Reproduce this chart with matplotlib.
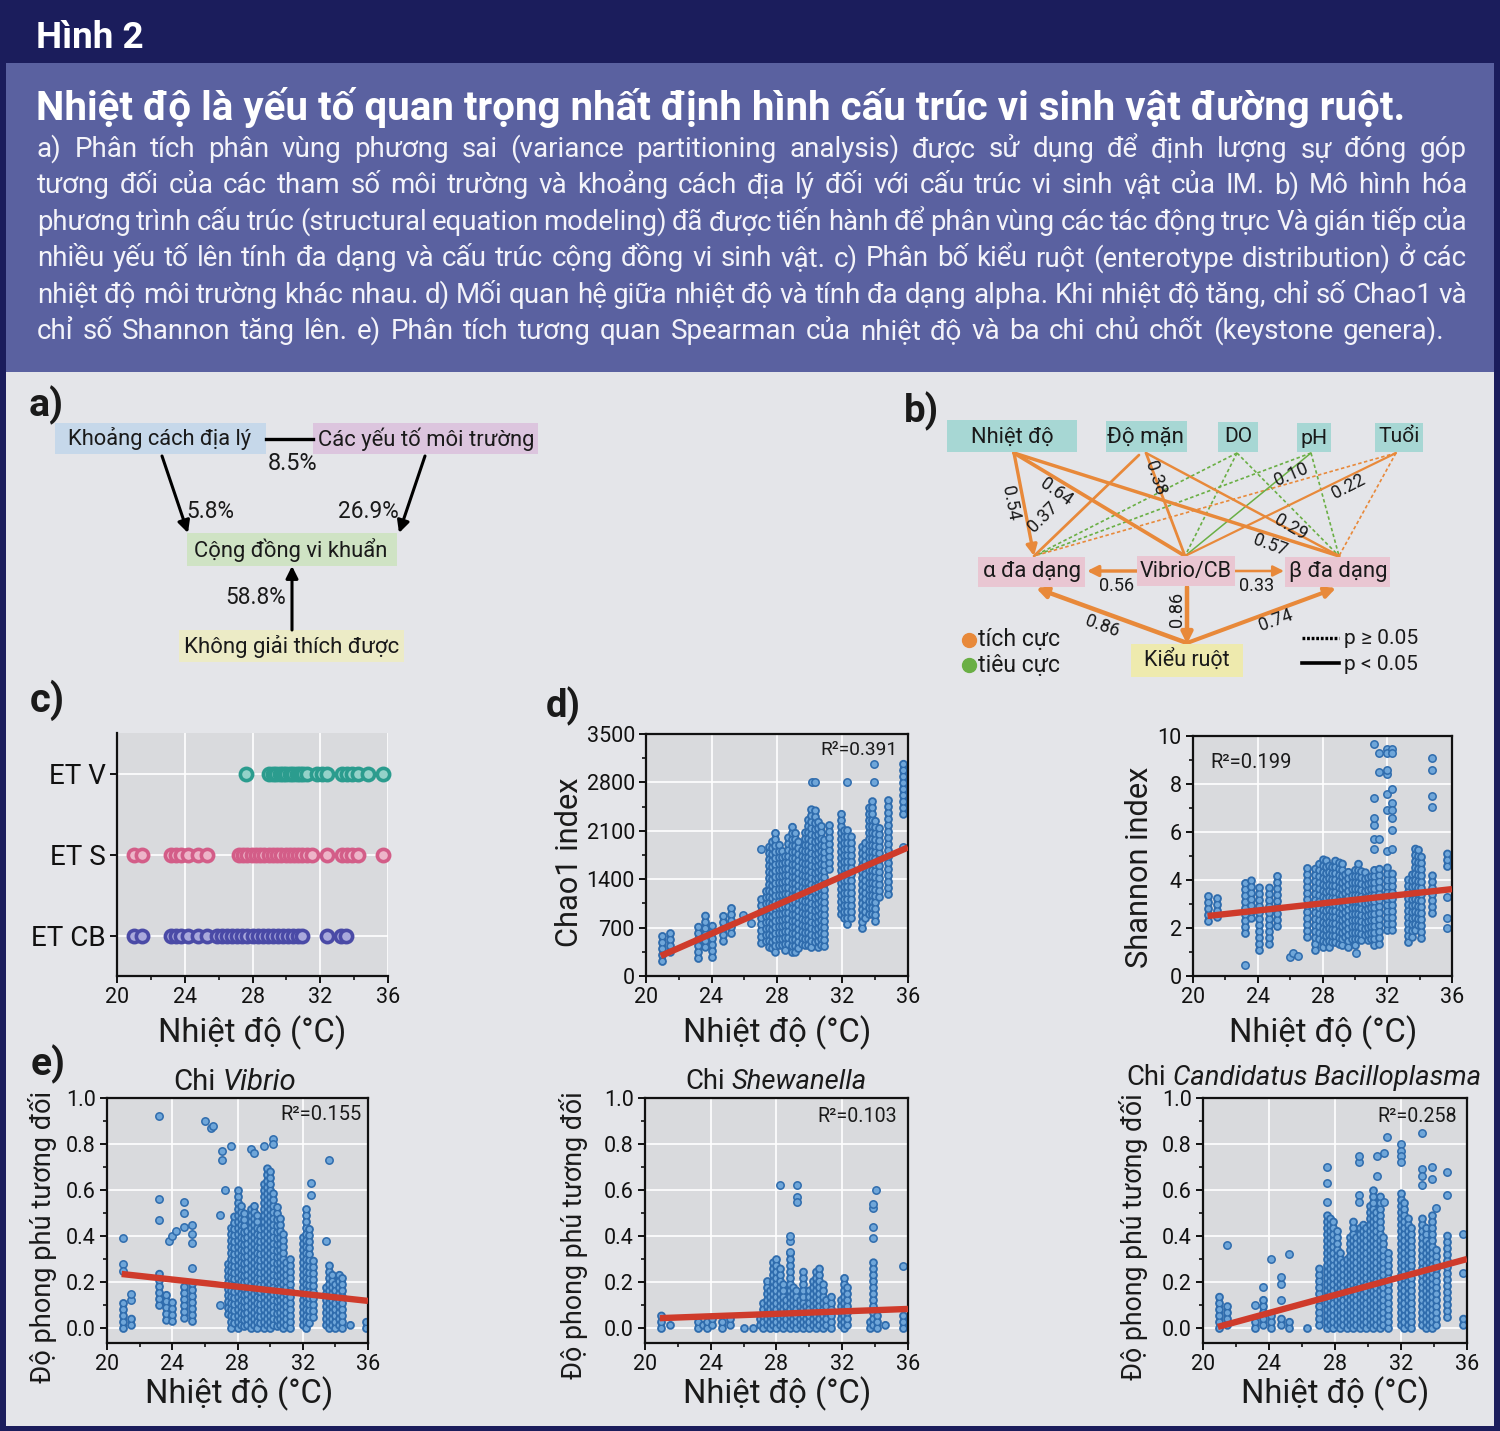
import matplotlib
matplotlib.use("Agg")
import matplotlib.pyplot as plt
from matplotlib.patches import Rectangle
from matplotlib.ticker import MultipleLocator, FormatStrFormatter

plt.rcParams['font.family'] = ['Roboto', 'DejaVu Sans']
plt.rcParams['lines.scale_dashes'] = False

# ------------------------------------------------------------------ data
fig_label = "Hình 2"
title = "Nhiệt độ là yếu tố quan trọng nhất định hình cấu trúc vi sinh vật đường ruột."
body_lines = [
    "a) Phân tích phân vùng phương sai (variance partitioning analysis) được sử dụng để định lượng sự đóng góp",
    "tương đối của các tham số môi trường và khoảng cách địa lý đối với cấu trúc vi sinh vật của IM. b) Mô hình hóa",
    "phương trình cấu trúc (structural equation modeling) đã được tiến hành để phân vùng các tác động trực Và gián tiếp của",
    "nhiều yếu tố lên tính đa dạng và cấu trúc cộng đồng vi sinh vật. c) Phân bố kiểu ruột (enterotype distribution) ở các",
    "nhiệt độ môi trường khác nhau. d) Mối quan hệ giữa nhiệt độ và tính đa dạng alpha. Khi nhiệt độ tăng, chỉ số Chao1 và",
    "chỉ số Shannon tăng lên. e) Phân tích tương quan Spearman của nhiệt độ và ba chi chủ chốt (keystone genera).",
]

# panel a: variance partitioning
a_nodes = ["Khoảng cách địa lý", "Các yếu tố môi trường", "Cộng đồng vi khuẩn", "Không giải thích được"]
a_shares = ["8.5%", "5.8%", "26.9%", "58.8%"]

# panel b: structural equation model
b_nodes = ["Nhiệt độ", "Độ mặn", "DO", "pH", "Tuổi", "α đa dạng", "Vibrio/CB", "β đa dạng", "Kiểu ruột"]
# (source, target, significant, positive, coefficient, arrow head)
b_edges = [
    ("DO", "α đa dạng", False, False, None, False),
    ("DO", "Vibrio/CB", False, False, None, False),
    ("DO", "β đa dạng", False, False, None, False),
    ("pH", "α đa dạng", False, False, None, False),
    ("pH", "β đa dạng", False, False, None, False),
    ("Tuổi", "α đa dạng", False, True, None, False),
    ("Tuổi", "β đa dạng", False, True, None, False),
    ("pH", "Vibrio/CB", True, False, 0.10, False),
    ("Nhiệt độ", "α đa dạng", True, True, 0.54, True),
    ("Nhiệt độ", "Vibrio/CB", True, True, 0.64, False),
    ("Nhiệt độ", "β đa dạng", True, True, 0.57, False),
    ("Độ mặn", "α đa dạng", True, True, 0.37, False),
    ("Độ mặn", "Vibrio/CB", True, True, 0.38, False),
    ("Độ mặn", "β đa dạng", True, True, 0.29, False),
    ("Tuổi", "Vibrio/CB", True, True, 0.22, False),
    ("Vibrio/CB", "α đa dạng", True, True, 0.56, True),
    ("Vibrio/CB", "β đa dạng", True, True, 0.33, True),
    ("Vibrio/CB", "Kiểu ruột", True, True, 0.86, True),
    ("Kiểu ruột", "α đa dạng", True, True, 0.86, True),
    ("Kiểu ruột", "β đa dạng", True, True, 0.74, True),
]
b_legend_sign = ["tích cực", "tiêu cực"]
b_legend_sig = ["p ≥ 0.05", "p < 0.05"]

# panel c: enterotype vs temperature
et_labels = ["ET CB", "ET S", "ET V"]
etcb_temp = [21.0, 21.5, 23.2, 23.5, 23.8, 24.2, 24.8, 25.3, 25.9, 26.2, 26.5, 26.8, 27.1, 27.4,
             27.7, 28.0, 28.3, 28.6, 28.9, 29.2, 29.5, 29.8, 30.1, 30.4, 30.7, 30.9, 32.4, 33.25, 33.5]
ets_temp = [21.0, 21.5, 23.2, 23.5, 23.8, 24.2, 24.8, 25.3, 27.2, 27.45, 27.7, 27.95, 28.2, 28.45,
            28.7, 28.95, 29.2, 29.45, 29.7, 29.95, 30.2, 30.45, 30.7, 30.95, 31.2, 31.5, 32.4, 33.3,
            33.6, 33.9, 34.2, 35.7]
etv_temp = [27.6, 29.0, 29.2, 29.4, 29.6, 29.8, 30.0, 30.2, 30.4, 30.6, 30.8, 31.0, 31.2, 31.8,
            32.1, 32.4, 33.3, 33.6, 33.9, 34.2, 34.8, 35.7]

temp_ticks = [20, 24, 28, 32, 36]
fit_temp = [20.9, 36.0]

# panel d: Chao1 (sample columns: temperature, lowest and highest value) + single samples
chao_t = [21.0, 21.45, 23.2, 23.6, 24.0, 24.7, 25.2, 27.0, 27.3, 27.5, 27.7, 27.9, 28.1, 28.3, 28.5,
          28.7, 28.9, 29.1, 29.3, 29.5, 29.7, 29.9, 30.1, 30.3, 30.5, 30.7, 30.9, 31.2, 31.9, 32.1,
          32.3, 32.5, 33.2, 33.4, 33.6, 33.8, 34.0, 34.2, 34.8, 35.7]
chao_lo = [210, 300, 260, 380, 280, 470, 620, 430, 500, 380, 400, 300, 450, 400, 380, 420, 350, 300,
           400, 420, 450, 400, 420, 450, 420, 400, 430, 1500, 900, 800, 750, 800, 700, 800, 900, 850,
           800, 1100, 1180, 2300]
chao_hi = [640, 620, 780, 880, 760, 960, 1030, 1200, 1250, 1900, 2000, 2100, 1950, 1850, 1800, 2050,
           2200, 2150, 2000, 1900, 2150, 2300, 2450, 2400, 2300, 2200, 2050, 2200, 2400, 2200, 2150,
           2050, 1950, 2000, 2500, 2550, 2300, 2200, 2600, 3150]
chao_px = [25.95, 26.4, 27.0, 30.15, 30.35, 32.3, 33.9, 33.9, 35.7]
chao_py = [880, 770, 1830, 2800, 2800, 2800, 2800, 3070, 1870]
chao_fit = [290, 1860]
chao_r2 = "R²=0.391"

# panel d: Shannon
sh_t = [20.93, 21.5, 23.2, 23.6, 24.1, 24.7, 25.2, 27.05, 27.55, 27.8, 28.0, 28.2, 28.4, 28.6, 28.8,
        29.0, 29.2, 29.4, 29.6, 29.8, 30.0, 30.2, 30.4, 30.6, 30.8, 31.0, 31.2, 31.5, 32.0, 32.3,
        33.3, 33.5, 33.7, 33.9, 34.1, 34.75, 35.7]
sh_lo = [2.3, 2.35, 1.8, 2.3, 1.1, 1.2, 2.1, 1.5, 1.1, 1.4, 1.2, 1.3, 1.2, 1.3, 1.4, 1.2, 1.3, 1.5,
         1.2, 1.4, 1.3, 1.4, 1.5, 1.6, 1.5, 1.4, 1.3, 1.2, 1.9, 1.8, 1.4, 1.5, 1.9, 2.0, 1.6, 2.5, 4.6]
sh_hi = [3.5, 3.45, 4.0, 4.2, 3.7, 3.7, 4.35, 4.55, 4.7, 4.8, 5.0, 4.9, 4.7, 4.8, 4.9, 4.8, 4.7, 4.5,
         4.6, 4.3, 4.5, 4.7, 4.6, 4.4, 4.3, 4.2, 4.5, 4.5, 4.6, 4.5, 4.2, 4.5, 5.4, 5.3, 5.2, 4.3, 5.3]
sh_px = [23.2, 26.0, 26.2, 26.5, 30.1, 31.2, 31.2, 31.2, 31.2, 31.2, 31.2, 31.5, 31.5, 31.5,
         32.0, 32.0, 32.0, 32.0, 32.0, 32.0, 32.0, 32.3, 32.3, 32.3, 32.3, 32.3, 32.3, 32.3, 32.3,
         34.75, 34.75, 34.75, 34.75, 35.7, 35.7, 35.7]
sh_py = [0.45, 0.8, 0.95, 0.85, 0.95, 5.3, 5.7, 6.3, 6.6, 7.4, 9.65, 9.3, 8.5, 5.7,
         9.45, 9.3, 8.4, 8.6, 7.6, 6.9, 5.2, 9.45, 9.3, 7.8, 7.2, 6.9, 6.6, 6.1, 5.3,
         7.05, 7.5, 8.6, 9.1, 3.3, 2.4, 2.0]
sh_fit = [2.5, 3.62]
sh_r2 = "R²=0.199"

# panel e: Vibrio
vib_t = [21.0, 21.5, 23.2, 23.6, 24.0, 24.7, 25.2, 27.4, 27.6, 27.8, 28.0, 28.2, 28.4, 28.6, 28.8,
         29.0, 29.2, 29.4, 29.6, 29.8, 30.0, 30.2, 30.4, 30.6, 30.8, 31.0, 31.2, 32.0, 32.2, 32.4,
         32.6, 33.4, 33.6, 33.8, 34.0, 34.2, 34.4, 34.9, 35.85]
vib_lo = [0.0, 0.0, 0.1, 0.02, 0.03, 0.03, 0.03, 0.05, 0.0, 0.01, 0.0, 0.0, 0.01, 0.0, 0.0, 0.0, 0.0,
          0.01, 0.0, 0.0, 0.0, 0.0, 0.01, 0.0, 0.0, 0.0, 0.0, 0.0, 0.0, 0.01, 0.05, 0.0, 0.0, 0.0,
          0.0, 0.0, 0.0, 0.0, 0.0]
vib_hi = [0.13, 0.05, 0.26, 0.16, 0.14, 0.2, 0.2, 0.3, 0.45, 0.5, 0.6, 0.55, 0.5, 0.45, 0.52, 0.55,
          0.5, 0.45, 0.65, 0.72, 0.7, 0.6, 0.55, 0.5, 0.42, 0.3, 0.3, 0.4, 0.52, 0.45, 0.3, 0.18,
          0.29, 0.25, 0.2, 0.24, 0.22, 0.02, 0.03]
vib_px = [21.0, 21.0, 21.0, 21.5, 21.5, 23.2, 23.2, 23.2, 23.8, 24.0, 24.2, 24.7, 24.7, 24.7, 25.2,
          25.2, 25.2, 25.2, 26.0, 26.35, 26.5, 26.9, 26.9, 27.05, 27.05, 27.25, 27.6, 28.85, 29.0,
          29.6, 30.2, 30.2, 32.5, 32.5, 33.4, 33.6]
vib_py = [0.28, 0.25, 0.39, 0.12, 0.15, 0.47, 0.56, 0.92, 0.38, 0.40, 0.42, 0.44, 0.50, 0.55, 0.26,
          0.37, 0.41, 0.45, 0.90, 0.87, 0.88, 0.10, 0.49, 0.77, 0.73, 0.60, 0.79, 0.78, 0.76,
          0.79, 0.82, 0.80, 0.58, 0.63, 0.38, 0.73]
vib_fit = [0.235, 0.118]
vib_r2 = "R²=0.155"

# panel e: Shewanella
she_t = [21.0, 21.5, 23.2, 23.5, 23.8, 24.1, 24.7, 25.2, 26.0, 26.3, 26.6, 27.0, 27.2, 27.4, 27.6,
         27.8, 28.0, 28.2, 28.4, 28.6, 28.8, 29.0, 29.2, 29.4, 29.6, 29.8, 30.0, 30.2, 30.4, 30.6,
         30.8, 31.0, 31.3, 31.9, 32.1, 32.3, 33.7, 33.9, 34.1, 34.6, 35.7]
she_lo = [0.0] * 41
she_hi = [0.06, 0.02, 0.04, 0.04, 0.05, 0.05, 0.05, 0.06, 0.01, 0.01, 0.01, 0.05, 0.12, 0.23, 0.18,
          0.3, 0.31, 0.28, 0.2, 0.15, 0.33, 0.2, 0.18, 0.15, 0.27, 0.12, 0.17, 0.22, 0.25, 0.26,
          0.2, 0.14, 0.14, 0.13, 0.23, 0.18, 0.05, 0.3, 0.06, 0.02, 0.07]
she_px = [28.2, 28.8, 28.8, 28.8, 29.25, 29.25, 29.25, 33.9, 33.9, 33.9, 33.9, 34.05, 35.7]
she_py = [0.62, 0.33, 0.38, 0.40, 0.62, 0.57, 0.55, 0.39, 0.44, 0.52, 0.54, 0.60, 0.27]
she_fit = [0.043, 0.083]
she_r2 = "R²=0.103"

# panel e: Candidatus Bacilloplasma
can_t = [20.95, 21.46, 23.15, 23.65, 24.1, 24.7, 25.2, 26.0, 26.3, 27.0, 27.5, 27.7, 27.9, 28.1,
         28.3, 28.5, 28.7, 28.9, 29.1, 29.3, 29.5, 29.7, 29.9, 30.1, 30.3, 30.5, 30.7, 30.9, 31.2,
         32.0, 32.2, 32.4, 32.6, 33.3, 33.5, 33.7, 33.9, 34.1, 34.8, 35.75]
can_lo = [0.0] * 38 + [0.05, 0.0]
can_hi = [0.15, 0.1, 0.05, 0.15, 0.06, 0.05, 0.04, 0.005, 0.005, 0.27, 0.5, 0.5, 0.48, 0.45, 0.35,
          0.3, 0.3, 0.4, 0.48, 0.42, 0.45, 0.46, 0.44, 0.55, 0.6, 0.52, 0.58, 0.4, 0.35, 0.6, 0.55,
          0.5, 0.45, 0.5, 0.45, 0.38, 0.5, 0.36, 0.42, 0.05]
can_px = [21.46, 23.15, 23.65, 24.1, 24.7, 24.7, 24.7, 25.2, 27.5, 27.5, 27.5, 29.45, 29.45, 29.45,
          29.45, 30.55, 30.55, 30.96, 30.96, 31.17, 32.0, 32.0, 32.0, 32.0, 33.3, 33.3, 33.3, 33.3,
          33.9, 33.9, 34.1, 34.8, 34.8, 35.75, 35.75]
can_py = [0.36, 0.1, 0.18, 0.3, 0.12, 0.19, 0.22, 0.32, 0.55, 0.63, 0.7, 0.58, 0.55, 0.72, 0.75,
          0.75, 0.66, 0.76, 0.55, 0.83, 0.8, 0.77, 0.75, 0.72, 0.85, 0.69, 0.66, 0.62, 0.7, 0.65,
          0.52, 0.58, 0.68, 0.24, 0.41]
can_fit = [0.005, 0.30]
can_r2 = "R²=0.258"

# ------------------------------------------------------------------ style
W, H = 1500, 1431
NAVY = '#1b1d5c'
SLATE = '#5a61a0'
BODY = '#e4e5e9'
PLOT_BG = '#d9dadd'
DOT_EDGE = '#2f6cad'
DOT_FILL = '#6fa6d9'
FIT = '#cf3b2b'
ORANGE = '#e8893a'
GREEN = '#6aaf45'
DOT_D = 6.4
DOT_SP = 4.5
DOT_IN = 3.7

fig = plt.figure(figsize=(15, 14.31), dpi=100)
fig.patch.set_facecolor(BODY)
R = fig.canvas.get_renderer()

ov = fig.add_axes([0, 0, 1, 1])
ov.set_zorder(10)
ov.patch.set_visible(False)
ov.set_xlim(0, W)
ov.set_ylim(H, 0)
ov.axis('off')


def px_rect(l, t, r, b):
    return [l / W, 1 - b / H, (r - l) / W, (b - t) / H]


def fit(x, y, s, width, size=16, ha='center', va='center', rot=0, **kw):
    t = ov.text(x, y, s, fontsize=size, ha=ha, va=va, **kw)
    w = t.get_window_extent(R).width
    t.set_fontsize(size * width / w)
    if rot:
        t.set_rotation(rot)
    return t


def fit_parts(cx, y, parts, width, size=18):
    ts = [ov.text(0, y, s, fontsize=size, style=st, ha='left', va='baseline', color='#1a1a1a')
          for s, st in parts]
    ws = [t.get_window_extent(R).width for t in ts]
    gap = 0.26 * size * 100 / 72
    k = width / (sum(ws) + gap * (len(ws) - 1))
    x = cx - width / 2
    for t, w in zip(ts, ws):
        t.set_fontsize(size * k)
        t.set_x(x)
        x += (w + gap) * k


def justify(y, s, x0, x1, size, color, weight='normal'):
    words = s.split()
    ts = [ov.text(0, y, w, fontsize=size, color=color, ha='left', va='baseline', fontweight=weight)
          for w in words]
    ws = [t.get_window_extent(R).width for t in ts]
    target = x1 - x0
    sp = 0.20 * size * 100 / 72
    nat = sum(ws) + sp * (len(ws) - 1)
    if nat > target:
        k = target / nat
        for t in ts:
            t.set_fontsize(size * k)
        ws = [w * k for w in ws]
    gap = (target - sum(ws)) / (len(ws) - 1)
    x = x0
    for t, w in zip(ts, ws):
        t.set_x(x)
        x += w + gap


# ------------------------------------------------------------------ header
ov.add_patch(Rectangle((0, 0), W, 63, fc=NAVY, ec='none'))
ov.add_patch(Rectangle((6, 63), W - 12, 309, fc=SLATE, ec='none'))
ov.add_patch(Rectangle((0, 0), 6, H, fc=NAVY, ec='none'))
ov.add_patch(Rectangle((W - 6, 0), 6, H, fc=NAVY, ec='none'))
ov.add_patch(Rectangle((0, H - 5), W, 5, fc=NAVY, ec='none'))

fit(36, 48, fig_label, 108, size=24, ha='left', va='baseline', color='white', fontweight='bold')
fit(36, 120, title, 1372, size=24, ha='left', va='baseline', color='white', fontweight='bold')
line_ends = [1467, 1467, 1467, 1467, 1467, 1444]
for i, line in enumerate(body_lines):
    justify(157 + 36.4 * i, line, 37, line_ends[i], 20, '#f3f3f9')

# ------------------------------------------------------------------ panel letters
for lab, x, y in [("a)", 29, 405), ("b)", 904, 411), ("c)", 30, 700), ("d)", 546, 706), ("e)", 31, 1064)]:
    fit(x, y, lab, 35, size=24, ha='left', va='center', fontweight='bold', color='#1a1a1a')

# ------------------------------------------------------------------ panel a
a_box = [(55, 423, 266, 454, '#c6d8ea'), (313, 423, 538, 454, '#dcc5de'),
         (187, 533, 397, 566, '#cfe3c4'), (179, 630, 404, 662, '#ecebc6')]
a_txt = [(160, 439, 184), (426, 439, 216), (291, 550, 193), (292, 647, 215)]
for name, (l, t, r, b, c), (cx, cy, w) in zip(a_nodes, a_box, a_txt):
    ov.add_patch(Rectangle((l, t), r - l, b - t, fc=c, ec='none', zorder=1))
    fit(cx, cy, name, w, size=16, color='#1a1a1a', zorder=3)
ov.plot([266, 313], [439, 439], color='black', lw=2.4, zorder=2)
arrow_kw = dict(arrowstyle='-|>', color='black', lw=2.2, mutation_scale=18, shrinkA=0, shrinkB=0)
ov.annotate('', xy=(188, 533), xytext=(162, 456), arrowprops=arrow_kw)
ov.annotate('', xy=(399, 533), xytext=(425, 456), arrowprops=arrow_kw)
ov.annotate('', xy=(292, 566), xytext=(292, 630), arrowprops=arrow_kw)
for s, (cx, cy, w) in zip(a_shares, [(293, 463, 50), (210, 511, 48), (368, 511, 61), (256, 598, 61)]):
    fit(cx, cy, s, w, size=16, color='#1a1a1a')

# ------------------------------------------------------------------ panel b
b_box = {"Nhiệt độ": (947, 420, 1077, 452), "Độ mặn": (1106, 421, 1187, 452),
         "DO": (1218, 422, 1258, 452), "pH": (1297, 423, 1331, 452), "Tuổi": (1375, 423, 1423, 452),
         "α đa dạng": (978, 557, 1085, 587), "Vibrio/CB": (1137, 556, 1235, 586),
         "β đa dạng": (1285, 557, 1390, 587), "Kiểu ruột": (1131, 644, 1243, 677)}
b_txt = {"Nhiệt độ": (1012, 437, 83), "Độ mặn": (1145, 437, 77), "DO": (1238, 437, 28),
         "pH": (1314, 438, 27), "Tuổi": (1399, 437, 41), "α đa dạng": (1032, 572, 98),
         "Vibrio/CB": (1186, 572, 92), "β đa dạng": (1338, 572, 98), "Kiểu ruột": (1187, 660, 86)}
b_col = {"Nhiệt độ": '#a7d7d4', "Độ mặn": '#a7d7d4', "DO": '#a7d7d4', "pH": '#a7d7d4',
         "Tuổi": '#a7d7d4', "α đa dạng": '#e9c6d2', "Vibrio/CB": '#e9c6d2', "β đa dạng": '#e9c6d2',
         "Kiểu ruột": '#eeeaae'}
for name in b_nodes:
    l, t, r, b = b_box[name]
    ov.add_patch(Rectangle((l, t), r - l, b - t, fc=b_col[name], ec='none', zorder=4))
    cx, cy, w = b_txt[name]
    fit(cx, cy, name, w, size=16, color='#1a1a1a', zorder=5)

b_src = {"Nhiệt độ": (1014, 453), "Độ mặn": (1146, 453), "DO": (1237, 453), "pH": (1311, 453),
         "Tuổi": (1396, 453)}
b_dst = {"α đa dạng": (1034, 556), "Vibrio/CB": (1185, 556), "β đa dạng": (1339, 556)}
b_special = {("Độ mặn", "α đa dạng"): ((1139, 455), (1034, 556)),
             ("Vibrio/CB", "α đa dạng"): ((1137, 571), (1087, 571)),
             ("Vibrio/CB", "β đa dạng"): ((1235, 571), (1284, 571)),
             ("Vibrio/CB", "Kiểu ruột"): ((1187, 587), (1187, 644)),
             ("Kiểu ruột", "α đa dạng"): ((1187, 643), (1036, 588)),
             ("Kiểu ruột", "β đa dạng"): ((1187, 643), (1336, 588))}
b_lab = {("Nhiệt độ", "α đa dạng"): (1010, 503, -79), ("Nhiệt độ", "Vibrio/CB"): (1056, 492, -35),
         ("Nhiệt độ", "β đa dạng"): (1270, 545, -20), ("Độ mặn", "α đa dạng"): (1043, 517, 45),
         ("Độ mặn", "Vibrio/CB"): (1155, 478, -72), ("Độ mặn", "β đa dạng"): (1291, 527, -30),
         ("pH", "Vibrio/CB"): (1291, 475, 23), ("Tuổi", "Vibrio/CB"): (1348, 487, 27),
         ("Vibrio/CB", "α đa dạng"): (1117, 586, 0), ("Vibrio/CB", "β đa dạng"): (1257, 586, 0),
         ("Vibrio/CB", "Kiểu ruột"): (1177, 609, 90), ("Kiểu ruột", "α đa dạng"): (1102, 626, -20),
         ("Kiểu ruột", "β đa dạng"): (1276, 620, 20)}
for src, dst, sig, pos, coef, head in b_edges:
    if (src, dst) in b_special:
        p0, p1 = b_special[(src, dst)]
    else:
        p0, p1 = b_src[src], b_dst[dst]
    col = ORANGE if pos else GREEN
    if not sig:
        ov.plot([p0[0], p1[0]], [p0[1], p1[1]], color=col, lw=1.2, dashes=(2.5, 1.8), zorder=2)
        continue
    lw = 1.0 + 2.6 * coef if pos else 1.1
    ov.annotate('', xy=p1, xytext=p0, zorder=3,
                arrowprops=dict(arrowstyle='-|>' if head else '-', color=col, lw=lw,
                                mutation_scale=16, shrinkA=0, shrinkB=0))
    x, y, rot = b_lab[(src, dst)]
    ov.text(x, y, f"{coef:.2f}", fontsize=13, ha='center', va='center', rotation=rot,
            color='#1a1a1a', zorder=6)

ov.plot([969], [640], 'o', color=ORANGE, ms=10, zorder=5)
ov.plot([969], [665], 'o', color=GREEN, ms=10, zorder=5)
fit(978, 640, b_legend_sign[0], 82, size=16, ha='left', color='#1a1a1a')
fit(978, 665, b_legend_sign[1], 82, size=16, ha='left', color='#1a1a1a')
ov.plot([1302, 1339], [638, 638], color='black', lw=2.4, dashes=(2, 1.3))
ov.plot([1302, 1339], [663, 663], color='black', lw=2.6)
fit(1344, 638, b_legend_sig[0], 74, size=15, ha='left', color='#1a1a1a')
fit(1344, 664, b_legend_sig[1], 74, size=15, ha='left', color='#1a1a1a')


# ------------------------------------------------------------------ axes helpers
def style_axes(ax, frame=True):
    ax.set_facecolor(PLOT_BG)
    ax.set_xlim(20, 36)
    ax.xaxis.set_major_locator(MultipleLocator(4))
    ax.xaxis.set_minor_locator(MultipleLocator(2))
    ax.grid(True, which='major', color='white', lw=1.2, zorder=0)
    ax.set_axisbelow(True)
    for sp in ax.spines.values():
        sp.set_linewidth(1.6)
        sp.set_color('#111111')
    if not frame:
        ax.spines['top'].set_visible(False)
        ax.spines['right'].set_visible(False)
    ax.tick_params(which='major', direction='out', length=5, width=1.4, labelsize=15.5,
                   colors='#111111', pad=3)
    ax.tick_params(which='minor', direction='out', length=3, width=1.2, colors='#111111')
    ax.tick_params(top=False, right=False, which='both')


def dot_columns(ax, xs, lo, hi, px, py):
    # each sample column drawn as a stack of ring markers (edge layer, then fill layer)
    for i, (x, a, b) in enumerate(zip(xs, lo, hi)):
        ls = [(0, (0.01, DOT_SP))] if i % 2 == 0 else [(DOT_SP / 2, (0.01, DOT_SP))]
        ax.vlines([x], [a], [b], colors=DOT_EDGE, linewidth=DOT_D, linestyles=ls,
                  capstyle='round', zorder=2)
        ax.vlines([x], [a], [b], colors=DOT_FILL, linewidth=DOT_IN, linestyles=ls,
                  capstyle='round', zorder=2)
    ax.scatter(px, py, s=(DOT_D - 1.1) ** 2, facecolors=DOT_FILL, edgecolors=DOT_EDGE,
               linewidths=1.1, zorder=2.2)


# ------------------------------------------------------------------ panel c
axc = fig.add_axes(px_rect(117, 733, 388, 976))
style_axes(axc, frame=False)
axc.set_ylim(-0.5, 2.5)
axc.set_yticks([0, 1, 2])
axc.set_yticklabels(et_labels, fontsize=20)
axc.set_xticks(temp_ticks)
for temps, row, ec, fc in [(etcb_temp, 0, '#4a4aa6', '#a9a9dc'),
                           (ets_temp, 1, '#d35d88', '#edb5c9'),
                           (etv_temp, 2, '#2b9c8e', '#94d2c9')]:
    axc.scatter(temps, [row] * len(temps), s=78, facecolors=fc, edgecolors=ec,
                linewidths=2.6, zorder=3, clip_on=False)
fit(252, 1042, "Nhiệt độ (°C)", 188, size=24, va='baseline', color='#1a1a1a')

# ------------------------------------------------------------------ panel d (Chao1)
axd1 = fig.add_axes(px_rect(646, 734, 908, 976))
style_axes(axd1)
axd1.set_ylim(0, 3500)
axd1.yaxis.set_major_locator(MultipleLocator(700))
axd1.yaxis.set_minor_locator(MultipleLocator(350))
dot_columns(axd1, chao_t, chao_lo, chao_hi, chao_px, chao_py)
axd1.plot(fit_temp, chao_fit, color=FIT, lw=4.6, solid_capstyle='butt', zorder=4)
fit(897, 750, chao_r2, 78, size=14, ha='right', color='#1a1a1a')
fit(569, 862, "Chao1 index", 169, size=22, rot=90, color='#1a1a1a')
fit(777, 1042, "Nhiệt độ (°C)", 188, size=24, va='baseline', color='#1a1a1a')

# ------------------------------------------------------------------ panel d (Shannon)
axd2 = fig.add_axes(px_rect(1193, 736, 1452, 976))
style_axes(axd2)
axd2.set_ylim(0, 10)
axd2.yaxis.set_major_locator(MultipleLocator(2))
axd2.yaxis.set_minor_locator(MultipleLocator(1))
dot_columns(axd2, sh_t, sh_lo, sh_hi, sh_px, sh_py)
axd2.plot(fit_temp, sh_fit, color=FIT, lw=4.6, solid_capstyle='butt', zorder=4)
fit(1210, 762, sh_r2, 82, size=14, ha='left', color='#1a1a1a')
fit(1139, 867, "Shannon index", 201, size=22, rot=90, color='#1a1a1a')
fit(1323, 1042, "Nhiệt độ (°C)", 188, size=24, va='baseline', color='#1a1a1a')

# ------------------------------------------------------------------ panel e
e_specs = [
    ((107, 1098, 368, 1343), vib_t, vib_lo, vib_hi, vib_px, vib_py, vib_fit, vib_r2,
     (362, 1115, 82), [("Chi", 'normal'), ("Vibrio", 'italic')], (235, 1090, 124), (43, 1237, 292),
     (239, 1403)),
    ((645, 1098, 908, 1343), she_t, she_lo, she_hi, she_px, she_py, she_fit, she_r2,
     (897, 1117, 80), [("Chi", 'normal'), ("Shewanella", 'italic')], (776, 1089, 182),
     (573, 1235, 287), (777, 1403)),
    ((1203, 1098, 1467, 1343), can_t, can_lo, can_hi, can_px, can_py, can_fit, can_r2,
     (1457, 1117, 80), [("Chi", 'normal'), ("Candidatus Bacilloplasma", 'italic')],
     (1304, 1085, 355), (1134, 1237, 285), (1335, 1403)),
]
for (rect, xs, lo, hi, px, py, fy, r2, r2pos, tparts, tpos, ylpos, xlpos) in e_specs:
    ax = fig.add_axes(px_rect(*rect))
    style_axes(ax)
    ax.set_ylim(-0.065, 1.0)
    ax.yaxis.set_major_locator(MultipleLocator(0.2))
    ax.yaxis.set_minor_locator(MultipleLocator(0.1))
    ax.yaxis.set_major_formatter(FormatStrFormatter('%.1f'))
    dot_columns(ax, xs, lo, hi, px, py)
    ax.plot(fit_temp, fy, color=FIT, lw=4.6, solid_capstyle='butt', zorder=4)
    fit(r2pos[0], r2pos[1], r2, r2pos[2], size=14, ha='right', color='#1a1a1a')
    fit_parts(tpos[0], tpos[1], tparts, tpos[2])
    fit(ylpos[0], ylpos[1], "Độ phong phú tương đối", ylpos[2], size=20, rot=90, color='#1a1a1a')
    fit(xlpos[0], xlpos[1], "Nhiệt độ (°C)", 188, size=24, va='baseline', color='#1a1a1a')

fig.savefig("out.png", dpi=100, facecolor=fig.get_facecolor())
